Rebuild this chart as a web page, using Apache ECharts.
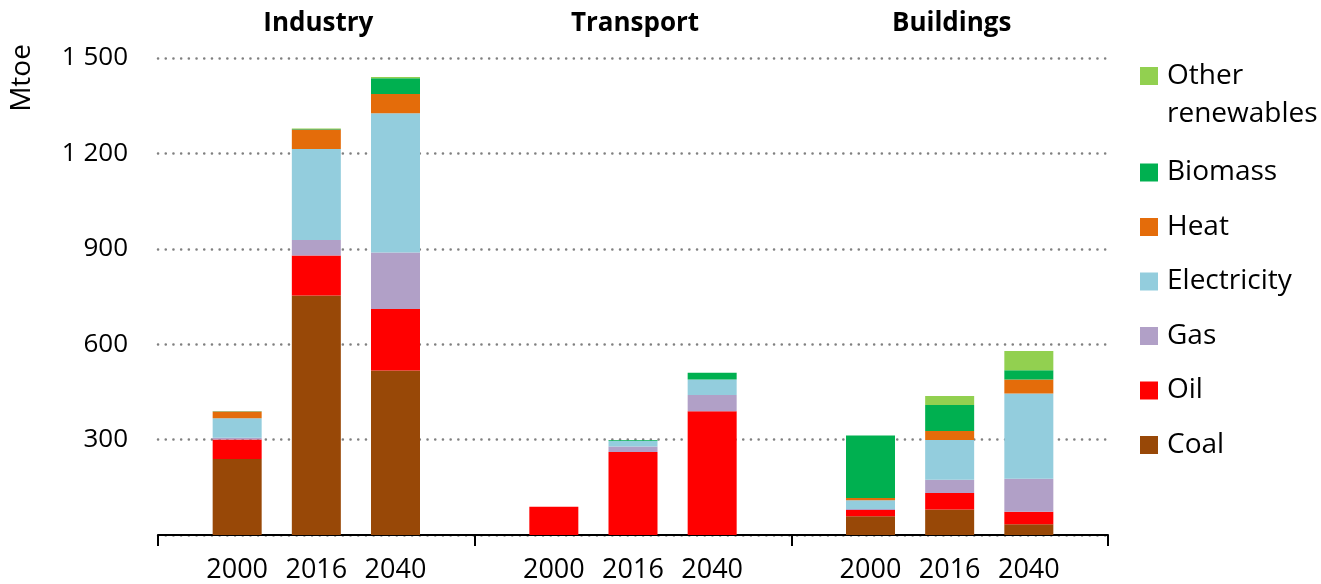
<!DOCTYPE html>
<html>
<head>
<meta charset="utf-8">
<script src="https://cdn.jsdelivr.net/npm/echarts@6/dist/echarts.min.js"></script>
<style>
html,body{margin:0;padding:0;background:#fff;}
#c{width:1321px;height:584px;}
</style>
</head>
<body>
<div id="c"></div>
<script>
// ---- data (Mtoe) ----
var groups = ['Industry', 'Transport', 'Buildings'];
var years = ['2000', '2016', '2040'];
var seriesNames = ['Coal', 'Oil', 'Gas', 'Electricity', 'Heat', 'Biomass', 'Other renewables'];
// values per group: Industry 2000/2016/2040, Transport 2000/2016/2040, Buildings 2000/2016/2040
var coal        = [239, 753, 517,   0,   0,   0,  59,  80,  34];
var oil         = [ 61, 126, 194,  89, 261, 389,  20,  52,  39];
var gas         = [  6,  49, 177,   0,  17,  51,   3,  42, 104];
var electricity = [ 61, 286, 438,   0,  18,  49,  27, 125, 268];
var heat        = [ 21,  61,  61,   0,   0,   0,   7,  28,  44];
var biomass     = [  1,   2,  49,   0,   3,  21, 197,  82,  29];
var otherRen    = [  0,   1,   4,   0,   0,   0,   0,  28,  61];
var yTicks = [0, 300, 600, 900, 1200, 1500];

var colors = {
  'Coal': '#984807',
  'Oil': '#FF0000',
  'Gas': '#B1A0C7',
  'Electricity': '#93CDDD',
  'Heat': '#E46C0A',
  'Biomass': '#00B050',
  'Other renewables': '#92D050'
};
var valuesBySeries = {
  'Coal': coal, 'Oil': oil, 'Gas': gas, 'Electricity': electricity,
  'Heat': heat, 'Biomass': biomass, 'Other renewables': otherRen
};

// category axis: spacer, 3 years, spacer, 3 years, spacer, 3 years, spacer
var cats = [''];
groups.forEach(function () { years.forEach(function (y) { cats.push(y); }); cats.push(''); });
function expand(arr) {
  var out = ['-'];
  for (var g = 0; g < groups.length; g++) {
    for (var k = 0; k < years.length; k++) out.push(arr[g * years.length + k]);
    out.push('-');
  }
  return out;
}

var FONT = 'Open Sans';
var series = seriesNames.map(function (n) {
  return {
    name: n, type: 'bar', stack: 'total', barWidth: 49,
    itemStyle: { color: colors[n] },
    emphasis: { disabled: true },
    data: expand(valuesBySeries[n])
  };
});

var gridLeft = 158, gridRight = 1321 - 1108;
var groupW = (1108 - 158) / groups.length;
var titles = groups.map(function (g, i) {
  return {
    text: g, left: gridLeft + groupW * (i + 0.5) - 3, top: 6, textAlign: 'center',
    textStyle: { fontFamily: FONT, fontWeight: 'bold', fontSize: 26, color: '#000' }
  };
});

var chart = echarts.init(document.getElementById('c'), null, { renderer: 'canvas' });
chart.setOption({
  animation: false,
  title: titles,
  grid: { left: gridLeft, right: gridRight, top: 58, bottom: 584 - 541, containLabel: false },
  legend: {
    orient: 'vertical', left: 1140, top: 19, padding: 0,
    itemWidth: 18, itemHeight: 18, itemGap: 24.5, icon: 'rect',
    selectedMode: false,
    textStyle: { fontFamily: FONT, fontSize: 28, color: '#000', lineHeight: 30, padding: [0, 0, 0, 4] },
    data: [
      { name: 'Other renewables', textStyle: { lineHeight: 38 } },
      'Biomass', 'Heat', 'Electricity', 'Gas', 'Oil', 'Coal'
    ],
    formatter: function (n) { return n === 'Other renewables' ? ' \nOther\nrenewables' : n; }
  },
  xAxis: {
    type: 'category', data: cats, boundaryGap: false,
    axisLine: { lineStyle: { color: '#000', width: 2 } },
    axisTick: { show: true, length: 11, interval: function (i) { return i % 4 === 0; }, lineStyle: { color: '#000', width: 2 } },
    axisLabel: { interval: 0, margin: 22, fontFamily: FONT, fontSize: 27, color: '#000' },
    splitLine: { show: false }
  },
  yAxis: {
    type: 'value', min: 0, max: 1500, interval: 300,
    axisLine: { show: false }, axisTick: { show: false },
    axisLabel: {
      margin: 30, fontFamily: FONT, fontSize: 26, color: '#000',
      formatter: function (v) { return v === 0 ? '' : String(v).replace(/\B(?=(\d{3})+(?!\d))/g, ' '); }
    },
    splitLine: { show: true, lineStyle: { color: '#808080', width: 2.5, type: [0.1, 7.6], cap: 'round' } }
  },
  graphic: [{
    type: 'text', x: 22, y: 78, rotation: Math.PI / 2,
    style: { text: 'Mtoe', fontFamily: FONT, fontSize: 28, fill: '#000', align: 'center', verticalAlign: 'middle' }
  }],
  series: series
});
</script>
</body>
</html>
